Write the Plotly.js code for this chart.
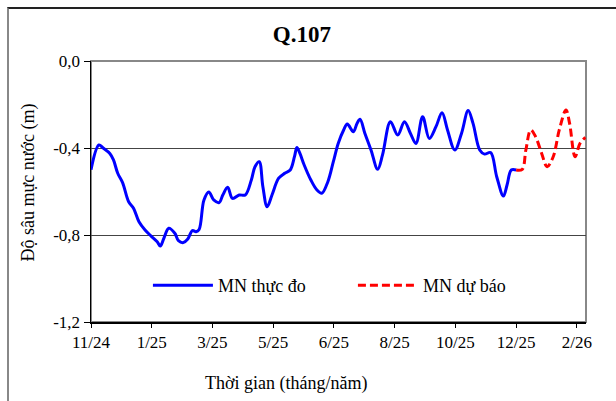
<!DOCTYPE html>
<html>
<head>
<meta charset="utf-8">
<script src="https://cdn.plot.ly/plotly-3.0.1.min.js"></script>
<style>
  html, body { margin: 0; padding: 0; background: #fff; overflow: hidden; }
  #wrap { position: relative; width: 616px; height: 401px; }
  #frame { position: absolute; left: 7px; top: 7px; width: 620px; height: 392px;
           border-left: 2px solid #888; border-bottom: 2px solid #888; border-top: 2px solid #222; pointer-events: none; }
  #chart { position: absolute; left: 0; top: 0; width: 616px; height: 401px; }
</style>
</head>
<body>
<div id="wrap">
  <div id="chart"></div>
  <div id="frame"></div>
</div>
<script>
// Tick positions and labels (category-like time axis)
const tickPos = [0, 1, 2, 3, 4, 5, 6, 7, 8];
const tickLabels = ["11/24", "1/25", "3/25", "5/25", "6/25", "8/25", "10/25", "12/25", "2/26"];

const yTickVals = [-1.2, -0.8, -0.4, 0];
const yTickText = ["-1,2", "-0,8", "-0,4", "0,0"];

// Measured water level depth (MN thực đo)
const tMeasured = [0, 0.13, 0.2, 0.31, 0.37, 0.44, 0.52, 0.62, 0.70, 0.79, 0.89, 0.99, 1.09, 1.14,
  1.20, 1.28, 1.38, 1.44, 1.52, 1.59, 1.67, 1.73, 1.78, 1.86, 1.94, 2.02, 2.11, 2.17, 2.25, 2.33,
  2.44, 2.54, 2.64, 2.70, 2.77, 2.83, 2.90, 2.98, 3.09, 3.19, 3.28, 3.35, 3.39, 3.44, 3.51, 3.62,
  3.72, 3.80, 3.90, 3.99, 4.07, 4.16, 4.22, 4.32, 4.38, 4.43, 4.51, 4.61, 4.72, 4.80, 4.93, 5.05,
  5.16, 5.26, 5.35, 5.46, 5.57, 5.68, 5.78, 5.87, 5.99, 6.10, 6.21, 6.29, 6.40, 6.48, 6.58, 6.68,
  6.79, 6.85, 6.92, 7.00];
const dMeasured = [-0.50, -0.386, -0.40, -0.425, -0.455, -0.516, -0.559, -0.647, -0.677, -0.739, -0.777, -0.805, -0.831, -0.851,
  -0.815, -0.769, -0.792, -0.826, -0.835, -0.820, -0.780, -0.785, -0.775, -0.639, -0.602, -0.639, -0.651, -0.616, -0.581, -0.632,
  -0.616, -0.616, -0.547, -0.486, -0.463, -0.578, -0.670, -0.616, -0.539, -0.516, -0.501, -0.440, -0.398, -0.425, -0.478, -0.547,
  -0.593, -0.608, -0.555, -0.463, -0.379, -0.317, -0.290, -0.325, -0.287, -0.268, -0.333, -0.409, -0.498, -0.432, -0.279, -0.340,
  -0.279, -0.333, -0.379, -0.256, -0.356, -0.302, -0.238, -0.317, -0.409, -0.333, -0.228, -0.287, -0.409, -0.428, -0.421, -0.532,
  -0.621, -0.570, -0.501, -0.501];

// Forecast water level depth (MN dự báo)
const tForecast = [7.00, 7.10, 7.16, 7.24, 7.32, 7.42, 7.51, 7.61, 7.71, 7.82, 7.88, 7.97, 8.05, 8.14];
const dForecast = [-0.501, -0.498, -0.409, -0.317, -0.348, -0.425, -0.486, -0.440, -0.317, -0.225, -0.287, -0.440, -0.379, -0.351];

const serif = "Liberation Serif";

const traces = [
  { x: tMeasured, y: dMeasured, type: "scatter", mode: "lines", name: "MN thực đo",
    line: { color: "#0000FF", width: 3, shape: "spline", smoothing: 1 } },
  { x: tForecast, y: dForecast, type: "scatter", mode: "lines", name: "MN dự báo",
    line: { color: "#FF0000", width: 3, dash: "8px,4px", shape: "spline", smoothing: 1 } }
];

const layout = {
  width: 616, height: 401,
  margin: { l: 91, r: 30, t: 61, b: 79 },
  paper_bgcolor: "#fff", plot_bgcolor: "#fff",
  font: { family: serif, size: 17, color: "#000" },
  title: { text: "<b>Q.107</b>", x: 0.49, xref: "container", xanchor: "center",
           y: 1 - 34 / 401, yref: "container", yanchor: "middle",
           font: { family: serif, size: 23, color: "#000" } },
  xaxis: {
    range: [0, 8.15], tickvals: tickPos, ticktext: tickLabels,
    showgrid: false, zeroline: false, showline: true, linecolor: "#000", linewidth: 1.5,
    ticks: "outside", ticklen: 4, tickcolor: "#000", tickfont: { family: serif, size: 17 }
  },
  yaxis: {
    range: [-1.2, 0], tickvals: yTickVals, ticktext: yTickText,
    showgrid: true, gridcolor: "#444", gridwidth: 1, zeroline: false,
    showline: true, linecolor: "#000", linewidth: 1.5,
    ticks: "outside", ticklen: 6, tickcolor: "#000", tickfont: { family: serif, size: 17 }
  },
  shapes: [
    { type: "rect", xref: "paper", yref: "paper", x0: 0, x1: 1, y0: 0, y1: 1,
      line: { color: "#888", width: 2 }, layer: "below" }
  ],
  annotations: [
    { text: "Thời gian (tháng/năm)", xref: "paper", yref: "paper", x: 0.394, y: -0.234,
      xanchor: "center", yanchor: "middle", showarrow: false, font: { family: serif, size: 18 } },
    { text: "Độ sâu mực nước (m)", xref: "paper", yref: "paper", x: -0.127, y: 0.535,
      xanchor: "center", yanchor: "middle", textangle: -90, showarrow: false, font: { family: serif, size: 18 } }
  ],
  showlegend: true,
  legend: { orientation: "h", x: 0.115, y: 0.14, xanchor: "left", yanchor: "middle",
            bgcolor: "rgba(0,0,0,0)", font: { family: serif, size: 18 }, itemwidth: 60,
            entrywidth: 130, entrywidthmode: "pixels", tracegroupgap: 0 }
};

Plotly.newPlot("chart", traces, layout, { displayModeBar: false, staticPlot: true });
</script>
</body>
</html>
